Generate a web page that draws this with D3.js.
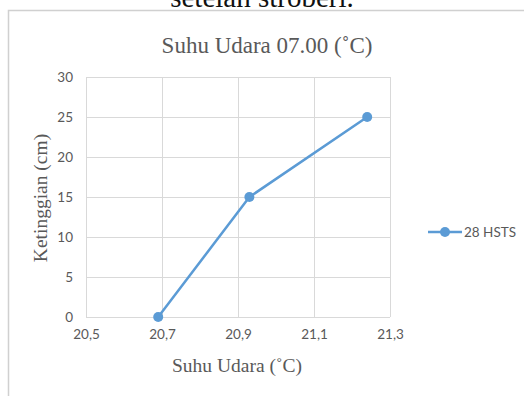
<!DOCTYPE html>
<html><head><meta charset="utf-8">
<script src="https://cdn.jsdelivr.net/npm/d3@7"></script>
<style>html,body{margin:0;padding:0;background:#fff;}svg{display:block;}</style>
</head><body>
<script>
const xValues = [20.69, 20.93, 21.24];
const yValues = [0, 15, 25];
const seriesName = "28 HSTS";
const xTicks = [20.5, 20.7, 20.9, 21.1, 21.3];
const yTicks = [0, 5, 10, 15, 20, 25, 30];
const titleText = "Suhu Udara 07.00 (˚C)";
const xTitle = "Suhu Udara (˚C)";
const yTitle = "Ketinggian (cm)";
const headerText = "setelah stroberi.";

const W = 524, H = 396;
const svg = d3.select("body").append("svg").attr("width", W).attr("height", H);
const blue = "#5b9bd5", gray = "#595959", grid = "#d9d9d9";

// header text cut at top (as in the reference)
svg.append("text").attr("x", 262).attr("y", 7).attr("text-anchor", "middle")
  .attr("font-family", "Liberation Serif").attr("font-size", 29).attr("fill", "#111").text(headerText);

// chart frame
svg.append("rect").attr("x", 8.5).attr("y", 10.5).attr("width", W).attr("height", H)
  .attr("fill", "#fff").attr("stroke", "#d0d0d0").attr("stroke-width", 1.5);

const x = d3.scaleLinear().domain([20.5, 21.3]).range([86, 390]);
const y = d3.scaleLinear().domain([0, 30]).range([317, 77]);

const fmt = d => d3.format(".1f")(d).replace(".", ",");

const gx = svg.append("g").attr("transform", "translate(0,317)")
  .call(d3.axisBottom(x).tickValues(xTicks).tickSize(-240).tickFormat(fmt).tickPadding(12));
gx.select(".domain").remove();
gx.selectAll("line").attr("stroke", grid).attr("shape-rendering", "crispEdges");
gx.selectAll("text").attr("fill", gray).attr("font-family", "Lato, 'Open Sans', sans-serif").attr("font-size", 13.5);

const gy = svg.append("g").attr("transform", "translate(86,0)")
  .call(d3.axisLeft(y).tickValues(yTicks).tickSize(-304).tickFormat(d3.format("d")).tickPadding(13));
gy.select(".domain").remove();
gy.selectAll("line").attr("stroke", grid).attr("shape-rendering", "crispEdges");
gy.selectAll("text").attr("fill", gray).attr("font-family", "Lato, 'Open Sans', sans-serif").attr("font-size", 13.5);

const data = xValues.map((v, i) => ({x: v, y: yValues[i]}));
svg.append("path").datum(data)
  .attr("d", d3.line().x(d => x(d.x)).y(d => y(d.y)))
  .attr("fill", "none").attr("stroke", blue).attr("stroke-width", 2.5).attr("stroke-linejoin", "round");
svg.selectAll("circle.pt").data(data).join("circle").attr("class", "pt")
  .attr("cx", d => x(d.x)).attr("cy", d => y(d.y)).attr("r", 5).attr("fill", blue);

// titles
svg.append("text").attr("x", 267).attr("y", 53).attr("text-anchor", "middle")
  .attr("font-family", "Liberation Serif").attr("font-size", 23).attr("fill", gray).text(titleText);
svg.append("text").attr("x", 237).attr("y", 372).attr("text-anchor", "middle")
  .attr("font-family", "Liberation Serif").attr("font-size", 19.5).attr("fill", gray).text(xTitle);
svg.append("text").attr("transform", "translate(47,198) rotate(-90)").attr("text-anchor", "middle")
  .attr("font-family", "Liberation Serif").attr("font-size", 19.5).attr("fill", gray).text(yTitle);

// legend
const lg = svg.append("g");
lg.append("line").attr("x1", 428).attr("x2", 462).attr("y1", 232).attr("y2", 232).attr("stroke", blue).attr("stroke-width", 2.5);
lg.append("circle").attr("cx", 445).attr("cy", 232).attr("r", 5).attr("fill", blue);
lg.append("text").attr("x", 464).attr("y", 237).attr("font-family", "Lato, 'Open Sans', sans-serif")
  .attr("font-size", 13.5).attr("fill", gray).text(seriesName);
</script>
</body></html>
